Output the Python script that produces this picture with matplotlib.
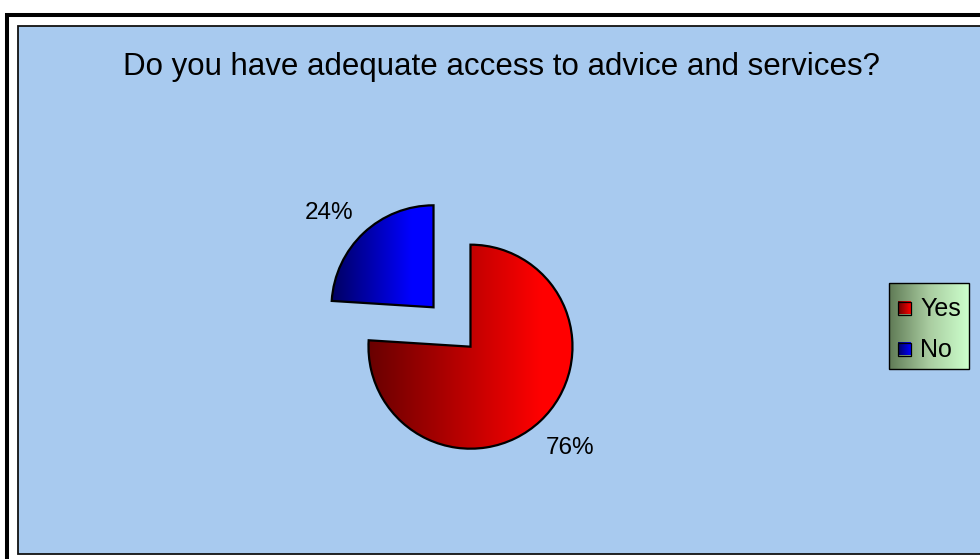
import numpy as np
import matplotlib
matplotlib.use("Agg")
import matplotlib.pyplot as plt
from matplotlib.patches import Rectangle
from matplotlib.colors import LinearSegmentedColormap

plt.rcParams['font.family'] = ['Liberation Sans', 'DejaVu Sans']

title = "Do you have adequate access to advice and services?"
categories = ["Yes", "No"]
values = [76, 24]
dark_colors = ["#680000", "#000062"]
bright_colors = ["#ff0000", "#0000ff"]
bright_stop = [0.85, 0.78]

W, H = 980, 559
fig = plt.figure(figsize=(W / 100, H / 100), dpi=100)
fig.patch.set_facecolor("white")

# background axes in pixel coordinates (y down)
bg = fig.add_axes([0, 0, 1, 1], zorder=0)
bg.set_xlim(0, W)
bg.set_ylim(H, 0)
bg.axis("off")
bg.add_patch(Rectangle((7, 15), W + 20, H + 20, facecolor="white",
                       edgecolor="black", lw=2.9))
bg.add_patch(Rectangle((18, 26), W + 20, 528, facecolor="#a8caef",
                       edgecolor="#111111", lw=1.3))
bg.text(501, 75, title, ha="center", va="baseline", fontsize=22.5,
        color="black")

# legend
leg_x0, leg_y0, leg_w, leg_h = 889, 283, 80, 86
grad = np.linspace(0, 1, 256).reshape(1, -1)
legcmap = LinearSegmentedColormap.from_list("leg", ["#5f7a55", "#a9cca0", "#ccffcc"])
bg.imshow(grad, cmap=legcmap, extent=(leg_x0, leg_x0 + leg_w, leg_y0 + leg_h, leg_y0),
          aspect="auto", zorder=2)
bg.add_patch(Rectangle((leg_x0, leg_y0), leg_w, leg_h, facecolor="none",
                       edgecolor="black", lw=1.0, zorder=3))
row_y = [308, 349]
for cat, dc, bc, yy in zip(categories, dark_colors, bright_colors, row_y):
    cm = LinearSegmentedColormap.from_list("m", [dc, bc])
    bg.imshow(grad, cmap=cm, extent=(898, 911, yy + 6.5, yy - 6.5), aspect="auto", zorder=3)
    bg.add_patch(Rectangle((898, yy - 6.5), 13, 13, facecolor="none",
                           edgecolor="black", lw=0.9, zorder=4))
    bg.text(920, yy + 1, cat, ha="left", va="center", fontsize=18, zorder=4)
bg.set_xlim(0, W)
bg.set_ylim(H, 0)

# pie axes: 1 data unit = R pixels
R = 102.0
cx, cy = 452.0, 327.0  # pixel center (y down)
ax = fig.add_axes([0, 0, 1, 1], zorder=1)
ax.patch.set_alpha(0)
ax.axis("off")
xlim = ((0 - cx) / R, (W - cx) / R)
ylim = (-(H - cy) / R, cy / R)

expl = 27.0 / R
wedges, texts, autotexts = ax.pie(values, startangle=90, counterclock=False,
                                  explode=[expl] * len(values), radius=1.0,
                                  autopct="%1.0f%%", pctdistance=1.39,
                                  wedgeprops=dict(facecolor="none", edgecolor="black",
                                                  linewidth=1.6),
                                  textprops=dict(fontsize=17.5, color="black"))
# small label nudges (pixels) to match the reference placement
nudges = [(3, 2), (-7, -9)]
for t, (dx, dy) in zip(autotexts, nudges):
    x, y = t.get_position()
    t.set_position((x + dx / R, y + dy / R))

for w, dc, bc, bs in zip(wedges, dark_colors, bright_colors, bright_stop):
    ext = w.get_path().get_extents()
    cm = LinearSegmentedColormap.from_list("g", [(0, dc), (bs, bc), (1, bc)])
    img = ax.imshow(grad, cmap=cm, extent=(ext.x0, ext.x1, ext.y0, ext.y1),
                    aspect="auto", zorder=0.5)
    img.set_clip_path(w)
ax.set_xlim(*xlim)
ax.set_ylim(*ylim)
ax.set_aspect("auto")

fig.savefig("out.png", dpi=100)
